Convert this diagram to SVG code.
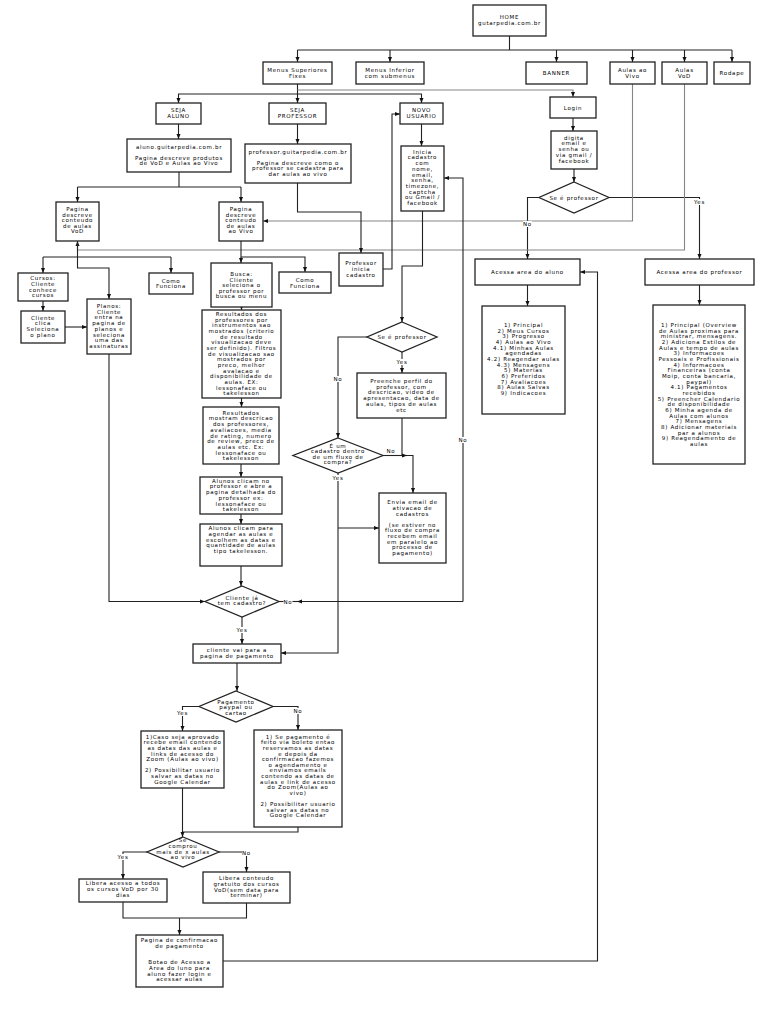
<svg xmlns="http://www.w3.org/2000/svg" width="768" height="1024" viewBox="0 0 768 1024">
<style>
.b{fill:#fff;stroke:#222;stroke-width:1.3}
.t{font-family:"DejaVu Sans","Liberation Sans",sans-serif;font-size:5.5px;letter-spacing:0.7px;text-anchor:middle;fill:#000}
.c{fill:none;stroke:#222;stroke-width:1.1}
.g{fill:none;stroke:#858585;stroke-width:1.1}
.a{marker-end:url(#ar)}
.lb{fill:#fff}
</style>
<defs>
<marker id="ar" viewBox="0 0 10 10" refX="10" refY="5" markerWidth="5" markerHeight="5" markerUnits="userSpaceOnUse" orient="auto"><path d="M0,1 L10,5 L0,9 z" fill="#111"/></marker>
</defs>
<rect width="768" height="1024" fill="#fff"/>

<g id="connectors">
<path class="c" d="M509.5,36 V50 M297.5,50 H732"/>
<path class="c a" d="M297.5,50 V62"/>
<path class="c a" d="M390,50 V62"/>
<path class="c a" d="M556.5,50 V62"/>
<path class="c a" d="M632.5,50 V62"/>
<path class="c a" d="M684.5,50 V62"/>
<path class="c a" d="M732,50 V62"/>
<path class="c a" d="M297.5,84 V103"/>
<path class="g a" d="M297.5,90 H573 V97"/>
<path class="c a" d="M297.5,94 H178.5 V103"/>
<path class="c a" d="M297.5,94 H421.5 V103"/>
<path class="c a" d="M178.5,124 V139"/>
<path class="c a" d="M297.5,124 V144"/>
<path class="c a" d="M421.5,124 V146"/>
<path class="c a" d="M573,118 V131"/>
<path class="c a" d="M574,169 V182"/>
<path class="c a" d="M609,197.5 H699.5 V259"/>
<path class="c a" d="M539,197.5 H527.5 V259"/>
<path class="g a" d="M632.5,84 V221 H263"/>
<path class="g a" d="M684.5,84 V250 H77.5 V241"/>
<path class="c" d="M179,172 V187 M77.5,187 H241"/>
<path class="c a" d="M77.5,187 V202"/>
<path class="c a" d="M241,187 V202"/>
<path class="c" d="M77.5,241 V257 M43,257 H171"/>
<path class="c a" d="M43,257 V273"/>
<path class="c a" d="M171,257 V273"/>
<path class="c a" d="M77.5,257 V268 H109 V299"/>
<path class="c a" d="M241,241 V257 H305 V272"/>
<path class="c a" d="M241,257 V263"/>
<path class="c a" d="M43,301 V311"/>
<path class="c a" d="M65,327 H87"/>
<path class="c a" d="M109,354 V601.5 H205"/>
<path class="c a" d="M241.5,307 V310"/>
<path class="c a" d="M241.5,398 V407"/>
<path class="c a" d="M241,464 V477"/>
<path class="c a" d="M241,514 V524"/>
<path class="c a" d="M241,566 V586"/>
<path class="c" d="M279,601.5 H298"/>
<path class="c a" d="M463,601.5 H297"/>
<path class="c a" d="M463,601.5 V178 H444"/>
<path class="c a" d="M242,617 V644"/>
<path class="c a" d="M297.5,183 V212 H361 V253"/>
<path class="c a" d="M383,269 H392 V114 H400"/>
<path class="c a" d="M422.5,211 V266 H402 V322"/>
<path class="c a" d="M402,352 V373"/>
<path class="c a" d="M367,337 H338 V438"/>
<path class="c a" d="M402,418 V455.5 H413 V493"/>
<path class="c a" d="M383,455.5 H407"/>
<path class="c a" d="M338,473 V653 H281"/>
<path class="c a" d="M338,528 H379"/>
<path class="c a" d="M237,663 V691"/>
<path class="c a" d="M199,706.5 H182.5 V731"/>
<path class="c a" d="M273,706.5 H298 V730"/>
<path class="c a" d="M182.5,788 V837"/>
<path class="c" d="M298,827 V832 H182.5"/>
<path class="c a" d="M147,852 H123 V879"/>
<path class="c a" d="M219,852 H246.5 V872"/>
<path class="c" d="M123,902 V918 H246.5 V903"/>
<path class="c a" d="M179.5,918 V935"/>
<path class="c a" d="M223,961 H597.5 V272 H580"/>
<path class="c a" d="M527.5,285 V306"/>
<path class="c a" d="M699.5,285 V305"/>
</g>

<g id="edge-labels">
<rect class="lb" x="283.5" y="598.5" width="9" height="6"/><text class="t" x="288" y="603.5">No</text>
<rect class="lb" x="236" y="627" width="12" height="6"/><text class="t" x="242" y="632">Yes</text>
<rect class="lb" x="458.5" y="437" width="9" height="6"/><text class="t" x="463" y="442">No</text>
<rect class="lb" x="396" y="359" width="12" height="6"/><text class="t" x="402" y="364">Yes</text>
<rect class="lb" x="333.5" y="376" width="9" height="6"/><text class="t" x="338" y="381">No</text>
<rect class="lb" x="386.5" y="448" width="9" height="6"/><text class="t" x="391" y="453">No</text>
<rect class="lb" x="332" y="475" width="12" height="6"/><text class="t" x="338" y="480">Yes</text>
<rect class="lb" x="693.5" y="199" width="12" height="6"/><text class="t" x="699.5" y="204">Yes</text>
<rect class="lb" x="523" y="221" width="9" height="6"/><text class="t" x="527.5" y="226">No</text>
<rect class="lb" x="176.5" y="710" width="12" height="6"/><text class="t" x="182.5" y="715">Yes</text>
<rect class="lb" x="293.5" y="708" width="9" height="6"/><text class="t" x="298" y="713">No</text>
<rect class="lb" x="117" y="854" width="12" height="6"/><text class="t" x="123" y="859">Yes</text>
<rect class="lb" x="242" y="850" width="9" height="6"/><text class="t" x="246.5" y="855">No</text>
</g>

<g id="home"><rect class="b" x="473" y="5" width="73" height="31"/><text class="t"><tspan x="509.5" y="19">HOME</tspan><tspan x="509.5" y="25">gutarpedia.com.br</tspan></text></g>
<g id="menus-superiores"><rect class="b" x="263" y="62" width="69" height="22"/><text class="t"><tspan x="297.5" y="72">Menus Superiores</tspan><tspan x="297.5" y="77.5">Fixes</tspan></text></g>
<g id="menus-inferior"><rect class="b" x="356" y="62" width="68" height="22"/><text class="t"><tspan x="390" y="72">Menus Inferior</tspan><tspan x="390" y="77.5">com submenus</tspan></text></g>
<g id="banner"><rect class="b" x="526" y="62" width="61" height="22"/><text class="t" x="556.5" y="74.8">BANNER</text></g>
<g id="aulas-ao-vivo"><rect class="b" x="610" y="62" width="45" height="22"/><text class="t"><tspan x="632.5" y="72">Aulas ao</tspan><tspan x="632.5" y="77.5">Vivo</tspan></text></g>
<g id="aulas-vod"><rect class="b" x="662" y="62" width="45" height="22"/><text class="t"><tspan x="684.5" y="72">Aulas</tspan><tspan x="684.5" y="77.5">VoD</tspan></text></g>
<g id="rodape"><rect class="b" x="714" y="62" width="36" height="22"/><text class="t" x="732" y="74.8">Rodape</text></g>

<g id="seja-aluno"><rect class="b" x="156" y="103" width="45" height="21"/><text class="t"><tspan x="178.5" y="112">SEJA</tspan><tspan x="178.5" y="117.6">ALUNO</tspan></text></g>
<g id="seja-professor"><rect class="b" x="269" y="103" width="57" height="21"/><text class="t"><tspan x="297.5" y="112">SEJA</tspan><tspan x="297.5" y="117.6">PROFESSOR</tspan></text></g>
<g id="novo-usuario"><rect class="b" x="400" y="103" width="43" height="21"/><text class="t"><tspan x="421.5" y="112">NOVO</tspan><tspan x="421.5" y="117.6">USUARIO</tspan></text></g>
<g id="login"><rect class="b" x="550" y="97" width="46" height="21"/><text class="t" x="573" y="110">Login</text></g>

<g id="aluno-site"><rect class="b" x="127" y="139" width="104" height="33"/><text class="t"><tspan x="179" y="149.3">aluno.guitarpedia.com.br</tspan><tspan x="179" y="159.7">Pagina descreve produtos</tspan><tspan x="179" y="165.3">de VoD e Aulas ao Vivo</tspan></text></g>
<g id="professor-site"><rect class="b" x="245" y="144" width="106" height="39"/><text class="t"><tspan x="298" y="153.7">professor.guitarpedia.com.br</tspan><tspan x="298" y="164.7">Pagina descreve como o</tspan><tspan x="298" y="170.2">professor se cadastra para</tspan><tspan x="298" y="175.7">dar aulas ao vivo</tspan></text></g>
<g id="inicia-cadastro"><rect class="b" x="401" y="146" width="43" height="65"/><text class="t"><tspan x="422.5" y="153.7">Inicia</tspan><tspan x="422.5" y="159.4">cadastro</tspan><tspan x="422.5" y="165.1">com</tspan><tspan x="422.5" y="170.8">nome,</tspan><tspan x="422.5" y="176.5">email,</tspan><tspan x="422.5" y="182.2">senha,</tspan><tspan x="422.5" y="187.9">timezone,</tspan><tspan x="422.5" y="193.6">captcha</tspan><tspan x="422.5" y="199.3">ou Gmail /</tspan><tspan x="422.5" y="205">facebook</tspan></text></g>
<g id="digita"><rect class="b" x="551" y="131" width="46" height="38"/><text class="t"><tspan x="574" y="139.7">digita</tspan><tspan x="574" y="145.4">email e</tspan><tspan x="574" y="151.1">senha ou</tspan><tspan x="574" y="156.8">via gmail /</tspan><tspan x="574" y="162.5">facebook</tspan></text></g>
<g id="login-se-professor"><polygon class="b" points="574,182 609,197.5 574,213 539,197.5"/><text class="t" x="574" y="199.5">Se é professor</text></g>

<g id="pagina-vod"><rect class="b" x="56" y="202" width="43" height="39"/><text class="t"><tspan x="77.5" y="211">Pagina</tspan><tspan x="77.5" y="216.6">descreve</tspan><tspan x="77.5" y="222.2">conteudo</tspan><tspan x="77.5" y="227.8">de aulas</tspan><tspan x="77.5" y="233.4">VoD</tspan></text></g>
<g id="pagina-vivo"><rect class="b" x="219" y="202" width="44" height="39"/><text class="t"><tspan x="241" y="211">Pagina</tspan><tspan x="241" y="216.6">descreve</tspan><tspan x="241" y="222.2">conteudo</tspan><tspan x="241" y="227.8">de aulas</tspan><tspan x="241" y="233.4">ao Vivo</tspan></text></g>
<g id="professor-inicia"><rect class="b" x="339" y="253" width="44" height="33"/><text class="t"><tspan x="361" y="265.3">Professor</tspan><tspan x="361" y="271">inicia</tspan><tspan x="361" y="276.7">cadastro</tspan></text></g>
<g id="acessa-aluno"><rect class="b" x="475" y="259" width="105" height="26"/><text class="t" x="527.5" y="273.7">Acessa area do aluno</text></g>
<g id="acessa-professor"><rect class="b" x="645" y="259" width="109" height="26"/><text class="t" x="699.5" y="273.7">Acessa area do professor</text></g>

<g id="cursos"><rect class="b" x="18" y="273" width="50" height="28"/><text class="t"><tspan x="43" y="280.3">Cursos:</tspan><tspan x="43" y="286">Cliente</tspan><tspan x="43" y="291.7">conhece</tspan><tspan x="43" y="297.4">cursos</tspan></text></g>
<g id="como-funciona-1"><rect class="b" x="149" y="273" width="44" height="21"/><text class="t"><tspan x="171" y="282.7">Como</tspan><tspan x="171" y="288.3">Funciona</tspan></text></g>
<g id="busca"><rect class="b" x="211" y="263" width="61" height="44"/><text class="t"><tspan x="241.5" y="276">Busca:</tspan><tspan x="241.5" y="281.6">Cliente</tspan><tspan x="241.5" y="287.2">seleciona o</tspan><tspan x="241.5" y="292.8">professor por</tspan><tspan x="241.5" y="298.4">busca ou menu</tspan></text></g>
<g id="como-funciona-2"><rect class="b" x="279" y="272" width="52" height="21"/><text class="t"><tspan x="305" y="282">Como</tspan><tspan x="305" y="287.6">Funciona</tspan></text></g>
<g id="planos"><rect class="b" x="87" y="299" width="44" height="55"/><text class="t"><tspan x="109" y="308">Planos:</tspan><tspan x="109" y="313.7">Cliente</tspan><tspan x="109" y="319.4">entra na</tspan><tspan x="109" y="325.1">pagina  de</tspan><tspan x="109" y="330.8">planos e</tspan><tspan x="109" y="336.5">seleciona</tspan><tspan x="109" y="342.2">uma das</tspan><tspan x="109" y="347.9">assinaturas</tspan></text></g>
<g id="cliente-clica"><rect class="b" x="21" y="311" width="44" height="32"/><text class="t"><tspan x="43" y="319.7">Cliente</tspan><tspan x="43" y="325.4">clica</tspan><tspan x="43" y="331.1">Seleciona</tspan><tspan x="43" y="336.8">o plano</tspan></text></g>

<g id="resultados-1"><rect class="b" x="202" y="310" width="79" height="88"/><text class="t"><tspan x="241.5" y="316">Resultados dos</tspan><tspan x="241.5" y="321.67">professores por</tspan><tspan x="241.5" y="327.33">instrumentos sao</tspan><tspan x="241.5" y="333">mostrados (criterio</tspan><tspan x="241.5" y="338.67">de resultado</tspan><tspan x="241.5" y="344.33">visualizacao deve</tspan><tspan x="241.5" y="350">ser definido).  Filtros</tspan><tspan x="241.5" y="355.67">de visualizacao sao</tspan><tspan x="241.5" y="361.33">mostrados por</tspan><tspan x="241.5" y="367">preco, melhor</tspan><tspan x="241.5" y="372.67">avalacao e</tspan><tspan x="241.5" y="378.33">disponibilidade de</tspan><tspan x="241.5" y="384">aulas. EX:</tspan><tspan x="241.5" y="389.67">lessonaface ou</tspan><tspan x="241.5" y="395.33">takelesson</tspan></text></g>

<g id="area-aluno"><rect class="b" x="482" y="306" width="83" height="108"/><text class="t"><tspan x="523.5" y="327">1) Principal</tspan><tspan x="523.5" y="332.67">2) Meus Cursos</tspan><tspan x="523.5" y="338.33">3) Progresso</tspan><tspan x="523.5" y="344">4) Aulas ao Vivo</tspan><tspan x="523.5" y="349.67">4.1) Minhas Aulas</tspan><tspan x="523.5" y="355.33">agendadas</tspan><tspan x="523.5" y="361">4.2) Reagendar aulas</tspan><tspan x="523.5" y="366.67">4.3) Mensagens</tspan><tspan x="523.5" y="372.33">5) Materias</tspan><tspan x="523.5" y="378">6) Preferidos</tspan><tspan x="523.5" y="383.67">7) Avaliacoes</tspan><tspan x="523.5" y="389.33">8) Aulas Salvas</tspan><tspan x="523.5" y="395">9) Indicacoes</tspan></text></g>

<g id="area-professor"><rect class="b" x="653" y="305" width="92" height="159"/><text class="t"><tspan x="699" y="327">1) Principal (Overview</tspan><tspan x="699" y="332.67">de Aulas proximas para</tspan><tspan x="699" y="338.33">ministrar, mensagens.</tspan><tspan x="699" y="344">2) Adiciona Estilos de</tspan><tspan x="699" y="349.67">Aulas e  tempo de aulas</tspan><tspan x="699" y="355.33">3) Informacoes</tspan><tspan x="699" y="361">Pessoais e Profissionais</tspan><tspan x="699" y="366.67">4) Informacoes</tspan><tspan x="699" y="372.33">Financeiras (conta</tspan><tspan x="699" y="378">Moip, conta bancaria,</tspan><tspan x="699" y="383.67">paypal)</tspan><tspan x="699" y="389.33">4.1) Pagamentos</tspan><tspan x="699" y="395">recebidos</tspan><tspan x="699" y="400.67">5) Preencher Calendario</tspan><tspan x="699" y="406.33">de disponibilidade</tspan><tspan x="699" y="412">6) Minha agenda de</tspan><tspan x="699" y="417.67">Aulas com alunos</tspan><tspan x="699" y="423.33">7) Mensagens</tspan><tspan x="699" y="429">8) Adicionar  materiais</tspan><tspan x="699" y="434.67">par a alunos</tspan><tspan x="699" y="440.33">9) Reagendamento de</tspan><tspan x="699" y="446">aulas</tspan></text></g>

<g id="se-professor"><polygon class="b" points="402,322 437,337 402,352 367,337"/><text class="t" x="402" y="338.7">Se é professor</text></g>
<g id="preenche-perfil"><rect class="b" x="357" y="373" width="89" height="45"/><text class="t"><tspan x="401.5" y="383">Preenche perfil do</tspan><tspan x="401.5" y="388.7">professor, com</tspan><tspan x="401.5" y="394.4">descricao, video de</tspan><tspan x="401.5" y="400.1">apresentacao, data de</tspan><tspan x="401.5" y="405.8">aulas, tipos de aulas</tspan><tspan x="401.5" y="411.5">etc</tspan></text></g>
<g id="resultados-2"><rect class="b" x="203" y="407" width="76" height="57"/><text class="t"><tspan x="241" y="414.7">Resultados</tspan><tspan x="241" y="420.4">mostram descricao</tspan><tspan x="241" y="426.1">dos professores,</tspan><tspan x="241" y="431.8">avaliacoes, media</tspan><tspan x="241" y="437.5">de rating, numero</tspan><tspan x="241" y="443.2">de review, preco de</tspan><tspan x="241" y="448.9">aulas etc. Ex:</tspan><tspan x="241" y="454.6">lessonaface ou</tspan><tspan x="241" y="460.3">takelesson</tspan></text></g>
<g id="fluxo-compra"><polygon class="b" points="338,438 383,455.5 338,473 293,455.5"/><text class="t"><tspan x="338" y="447.7">É um</tspan><tspan x="338" y="453.2">cadastro dentro</tspan><tspan x="338" y="458.8">de um fluxo de</tspan><tspan x="338" y="464.4">compra?</tspan></text></g>
<g id="alunos-clicam-professor"><rect class="b" x="200" y="477" width="82" height="37"/><text class="t"><tspan x="241" y="482.7">Alunos clicam no</tspan><tspan x="241" y="488.4">professor e abre a</tspan><tspan x="241" y="494.1">pagina detalhada do</tspan><tspan x="241" y="499.8">professor ex:</tspan><tspan x="241" y="505.5">lessonaface ou</tspan><tspan x="241" y="511.2">takelesson</tspan></text></g>
<g id="alunos-agendar"><rect class="b" x="200" y="524" width="82" height="42"/><text class="t"><tspan x="241" y="530.3">Alunos clicam para</tspan><tspan x="241" y="536">agendar as aulas e</tspan><tspan x="241" y="541.7">escolhem as datas e</tspan><tspan x="241" y="547.4">quantidade de aulas</tspan><tspan x="241" y="553.1">tipo takelesson.</tspan></text></g>
<g id="envia-email"><rect class="b" x="379" y="493" width="67" height="70"/><text class="t"><tspan x="412.5" y="504.3">Envia email de</tspan><tspan x="412.5" y="509.9">ativacao de</tspan><tspan x="412.5" y="515.5">cadastros</tspan><tspan x="412.5" y="526.7">(se estiver no</tspan><tspan x="412.5" y="532.3">fluxo de  compra</tspan><tspan x="412.5" y="537.9">recebem email</tspan><tspan x="412.5" y="543.5">em paralelo ao</tspan><tspan x="412.5" y="549.1">processo de</tspan><tspan x="412.5" y="554.7">pagamento)</tspan></text></g>
<g id="cliente-cadastro"><polygon class="b" points="242,586 279,601.5 242,617 205,601.5"/><text class="t"><tspan x="242" y="599.5">Cliente já</tspan><tspan x="242" y="605">tem cadastro?</tspan></text></g>

<g id="pagina-pagamento"><rect class="b" x="193" y="644" width="88" height="19"/><text class="t"><tspan x="237" y="652">cliente vai para a</tspan><tspan x="237" y="657.7">pagina de pagamento</tspan></text></g>
<g id="pagamento-tipo"><polygon class="b" points="236,691 273,706.5 236,722 199,706.5"/><text class="t"><tspan x="236" y="703.7">Pagamento</tspan><tspan x="236" y="709.3">paypal ou</tspan><tspan x="236" y="714.9">cartao</tspan></text></g>
<g id="pagamento-aprovado"><rect class="b" x="141" y="731" width="83" height="57"/><text class="t"><tspan x="182.5" y="738.7">1)Caso seja aprovado</tspan><tspan x="182.5" y="744.3">recebe email contendo</tspan><tspan x="182.5" y="749.9">as datas das aulas e</tspan><tspan x="182.5" y="755.5">links de acesso do</tspan><tspan x="182.5" y="761.1">Zoom (Aulas ao vivo)</tspan><tspan x="182.5" y="772.3">2) Possibilitar usuario</tspan><tspan x="182.5" y="777.9">salvar as datas no</tspan><tspan x="182.5" y="783.5">Google Calendar</tspan></text></g>
<g id="pagamento-boleto"><rect class="b" x="254" y="730" width="88" height="97"/><text class="t"><tspan x="298" y="738.7">1) Se pagamento é</tspan><tspan x="298" y="744.3">feito via boleto entao</tspan><tspan x="298" y="749.9">reservamos as datas</tspan><tspan x="298" y="755.5">e depois  da</tspan><tspan x="298" y="761.1">confirmacao fazemos</tspan><tspan x="298" y="766.7">o agendamento e</tspan><tspan x="298" y="772.3">enviamos emails</tspan><tspan x="298" y="777.9">contendo as datas de</tspan><tspan x="298" y="783.5">aulas e link de acesso</tspan><tspan x="298" y="789.1">do Zoom(Aulas ao</tspan><tspan x="298" y="794.7">vivo)</tspan><tspan x="298" y="805.9">2) Possibilitar usuario</tspan><tspan x="298" y="811.5">salvar as datas no</tspan><tspan x="298" y="817.1">Google Calendar</tspan></text></g>
<g id="comprou-aulas"><polygon class="b" points="183,837 219,852 183,867 147,852"/><text class="t"><tspan x="183" y="842">Se</tspan><tspan x="183" y="848">comprou</tspan><tspan x="183" y="853.7">mais de x aulas</tspan><tspan x="183" y="859.3">ao vivo</tspan></text></g>
<g id="libera-30-dias"><rect class="b" x="79" y="879" width="88" height="23"/><text class="t"><tspan x="123" y="885.3">Libera acesso a todos</tspan><tspan x="123" y="891">os cursos VoD por 30</tspan><tspan x="123" y="896.7">dias</tspan></text></g>
<g id="libera-gratuito"><rect class="b" x="203" y="872" width="87" height="31"/><text class="t"><tspan x="246.5" y="880.3">Libera conteudo</tspan><tspan x="246.5" y="886">gratuito dos cursos</tspan><tspan x="246.5" y="891.7">VoD(sem data para</tspan><tspan x="246.5" y="897.4">terminar)</tspan></text></g>
<g id="confirmacao-pagamento"><rect class="b" x="136" y="935" width="87" height="52"/><text class="t"><tspan x="179.5" y="942">Pagina de confirmacao</tspan><tspan x="179.5" y="947.6">de pagamento</tspan><tspan x="179.5" y="964.4">Botao de Acesso a</tspan><tspan x="179.5" y="970">Area  do luno para</tspan><tspan x="179.5" y="975.6">aluno fazer  login e</tspan><tspan x="179.5" y="981.2">acessar aulas</tspan></text></g>
</svg>
